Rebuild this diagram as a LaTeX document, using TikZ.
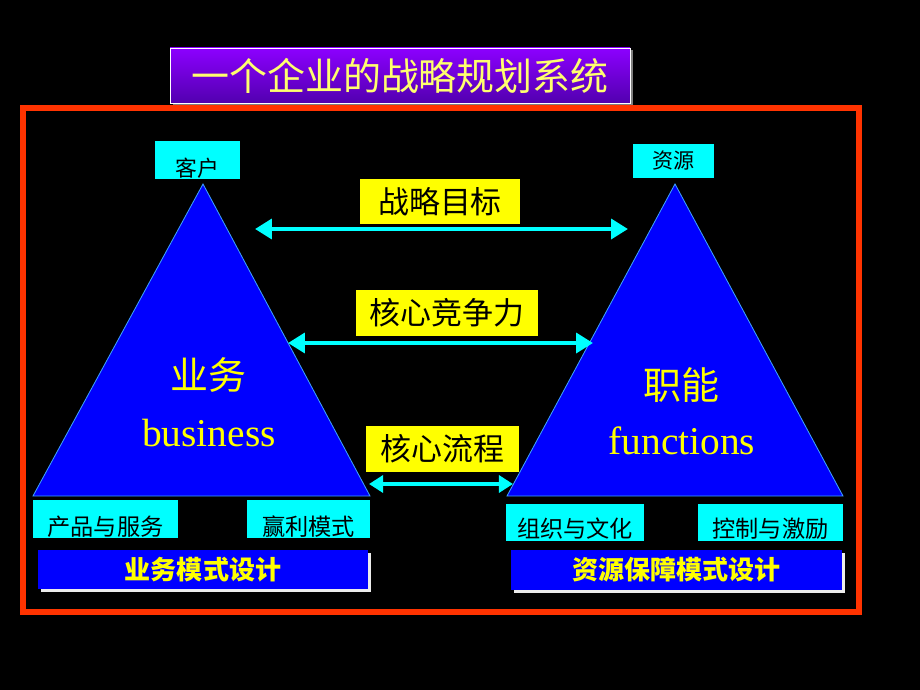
\documentclass[tikz,border=0pt]{standalone}
\usepackage{fontspec}
\setmainfont{Liberation Serif}
\newfontfamily\cjk{Noto Sans CJK SC}
\usetikzlibrary{arrows.meta,shadows}
\definecolor{bingkai}{RGB}{255,51,0}
\definecolor{ungu1}{RGB}{140,0,255}
\definecolor{ungu2}{RGB}{82,0,175}
\definecolor{kuningjudul}{RGB}{255,255,110}
\definecolor{birutepi}{RGB}{60,160,255}
\definecolor{sian}{RGB}{0,255,255}
\definecolor{kuning}{RGB}{255,255,0}
\definecolor{biru}{RGB}{0,0,255}
\newcommand{\sat}{0.025cm}
\newcommand{\turun}[2]{\smash{\raisebox{#1}{#2}}}
\tikzstyle{judulbox} = [rectangle, draw=white, thin, top color=ungu1, bottom color=ungu2, text=kuningjudul, inner sep=0pt, font=\cjk\fontsize{27}{27}\selectfont, drop shadow={fill=gray, shadow xshift=2pt, shadow yshift=-1.5pt, opacity=1}]
\tikzstyle{kotak} = [rectangle, fill=sian, inner sep=0pt, text=black, font=\cjk\fontsize{16.5}{16.5}\selectfont]
\tikzstyle{label} = [rectangle, fill=kuning, inner sep=0pt, text=black, font=\cjk\fontsize{22}{22}\selectfont]
\tikzstyle{batang} = [rectangle, fill=biru, inner sep=0pt, text=kuning, font=\cjk\bfseries\fontsize{18.5}{18.5}\selectfont, drop shadow={fill=white!85!gray, shadow xshift=2pt, shadow yshift=-2pt, opacity=1}]
\tikzstyle{segitiga} = [fill=biru, draw=birutepi, line width=0.6pt]
\tikzstyle{besar} = [text=kuning, font=\cjk\fontsize{27}{27}\selectfont]
\tikzstyle{latin} = [text=kuning, font=\fontsize{28}{28}\selectfont]
\tikzstyle{panah} = [sian, line width=3.5pt, {Triangle[length=12pt,width=14pt]}-{Triangle[length=12pt,width=14pt]}]
\tikzstyle{panahkecil} = [sian, line width=3.5pt, {Triangle[length=10pt,width=12pt]}-{Triangle[length=10pt,width=12pt]}]
\begin{document}
\begin{tikzpicture}[x=0.025cm, y=-0.025cm]
	% latar belakang dan bingkai
	\fill[black] (0,0) rectangle (920,690);
	\draw[bingkai, line width=3.6pt] (23,108) rectangle (859,612);
	\node (judul) [judulbox, minimum width=460*\sat, minimum height=55*\sat] at (400,75.5) {一个企业的战略规划系统};

	% segitiga kiri dan kanan
	\coordinate (kiri-puncak) at (203,184);
	\coordinate (kiri-a) at (33,496);
	\coordinate (kiri-b) at (370,496);
	\coordinate (kanan-puncak) at (675,184);
	\coordinate (kanan-a) at (507,496);
	\coordinate (kanan-b) at (843,496);
	\filldraw[segitiga] (kiri-puncak) -- (kiri-a) -- (kiri-b) -- cycle;
	\filldraw[segitiga] (kanan-puncak) -- (kanan-a) -- (kanan-b) -- cycle;
	\node (yewu) [besar] at (208,375) {业务};
	\node (bisnis) [latin] at (209,433) {business};
	\node (zhineng) [besar] at (681,385) {职能};
	\node (fungsi) [latin] at (682,441) {functions};

	% kotak di puncak
	\node (kehu) [kotak, minimum width=85*\sat, minimum height=38*\sat, font=\cjk\fontsize{15.5}{15.5}\selectfont] at (197.5,160) {\turun{-12pt}{客户}};
	\node (ziyuan) [kotak, minimum width=81*\sat, minimum height=34*\sat, font=\cjk\fontsize{15}{15}\selectfont] at (673.5,161) {资源};

	% label kuning
	\node (mubiao) [label, minimum width=160*\sat, minimum height=45*\sat] at (440,201.5) {战略目标};
	\node (jingzheng) [label, minimum width=182*\sat, minimum height=46*\sat] at (447,313) {核心竞争力};
	\node (liucheng) [label, minimum width=153*\sat, minimum height=46*\sat] at (442.5,449) {核心流程};

	% panah dua arah
	\coordinate (p1a) at (255,229);
	\coordinate (p1b) at (628,229);
	\coordinate (p2a) at (288,343);
	\coordinate (p2b) at (593,343);
	\coordinate (p3a) at (369,484);
	\coordinate (p3b) at (513,484);
	\draw[panah] (p1a) -- (p1b);
	\draw[panah] (p2a) -- (p2b);
	\draw[panahkecil] (p3a) -- (p3b);

	% kotak bawah
	\node (chanpin) [kotak, minimum width=145*\sat, minimum height=38*\sat] at (105.5,519) {\turun{-11.5pt}{产品与服务}};
	\node (yingli) [kotak, minimum width=123*\sat, minimum height=38*\sat] at (308.5,519) {\turun{-11.5pt}{赢利模式}};
	\node (zuzhi) [kotak, minimum width=138*\sat, minimum height=37*\sat] at (575,522.5) {\turun{-10.5pt}{组织与文化}};
	\node (kongzhi) [kotak, minimum width=145*\sat, minimum height=37*\sat] at (770.5,522.5) {\turun{-10.5pt}{控制与激励}};

	% batang biru
	\node (moshi) [batang, minimum width=330*\sat, minimum height=39*\sat] at (203,569.5) {业务模式设计};
	\node (baozhang) [batang, minimum width=331*\sat, minimum height=40*\sat] at (676.5,570) {资源保障模式设计};
\end{tikzpicture}
\end{document}
